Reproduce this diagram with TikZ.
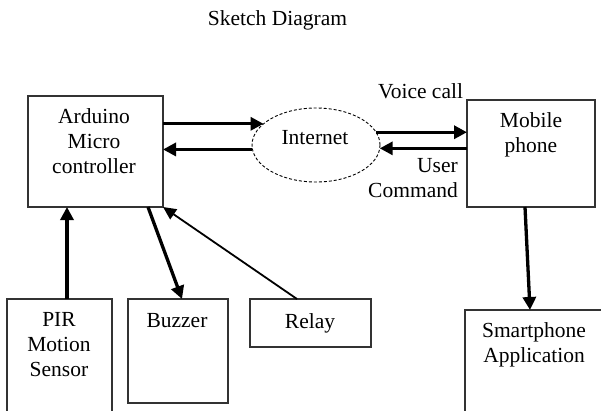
\documentclass[tikz,border=0pt]{standalone}
\usepackage{fontspec}
\setmainfont{Liberation Serif}
\usetikzlibrary{shapes.geometric,arrows.meta}

\begin{document}
\begin{tikzpicture}[x=1pt,y=-1pt,
	blk/.style={draw=black!80, line width=1.6pt, inner sep=0, outer sep=0},
	lbl/.style={inner sep=0, anchor=north, align=center, font=\fontsize{21.5}{25}\selectfont},
	link/.style={line width=3.3pt, -{Triangle[length=13pt,width=13pt]}},
	thinlink/.style={line width=1.8pt, -{Triangle[length=13pt,width=12pt]}}]
	\useasboundingbox (0,0) rectangle (601,410);
	\clip (0,0) rectangle (601,410);
	% blocks
	\node[blk, minimum width=135pt, minimum height=111pt] (ard) at (95.5,151.5) {};
	\node[blk, ellipse, draw=black, dash pattern=on 3pt off 2pt, line width=0.9pt, minimum width=128pt, minimum height=74pt] (net) at (316,145) {};
	\node[blk, minimum width=128pt, minimum height=107pt] (mob) at (531,153.5) {};
	\node[blk, minimum width=105pt, minimum height=121pt] (pir) at (59.5,359.5) {};
	\node[blk, minimum width=100pt, minimum height=104pt] (buz) at (178,351) {};
	\node[blk, minimum width=121pt, minimum height=48pt] (rel) at (310.5,323) {};
	\node[blk, minimum width=150pt, minimum height=110pt] (sph) at (540,365) {};
	% texts
	\node[lbl] (title) at (277.5,10.5) {Sketch Diagram};
	\node[lbl] (ardtxt) at (94,108.5) {Arduino\\Micro\\controller};
	\node[lbl] (nettxt) at (315,130.5) {Internet};
	\node[lbl] (voice) at (420.5,83.5) {Voice call};
	\node[lbl, anchor=north east, align=right] (usercmd) at (458,158.5) {User\\Command};
	\node[lbl] (mobtxt) at (531,112.5) {Mobile\\phone};
	\node[lbl] (pirtxt) at (59,312.5) {PIR\\Motion\\Sensor};
	\node[lbl] (buztxt) at (177,313.5) {Buzzer};
	\node[lbl] (reltxt) at (310,313.5) {Relay};
	\node[lbl] (sphtxt) at (534,322.5) {Smartphone\\Application};
	% connections
	\draw[link] (ard.east |- net.158) -- (net.158);
	\draw[link] (net.184) -- (net.184 -| ard.east);
	\draw[link] (net.12) -- (net.12 -| mob.west);
	\draw[link] (mob.west |- net.-3) -- (net.-3);
	\draw[link] ([xshift=7.5pt]pir.north) -- ([xshift=7.5pt]pir.north |- ard.south);
	\draw[link] ([xshift=52.5pt]ard.south) -- ([xshift=4pt]buz.north);
	\draw[thinlink] ([xshift=-13.5pt]rel.north) -- (ard.south east);
	\draw[link] ([xshift=-6pt]mob.south) -- ([xshift=-10pt]sph.north);
\end{tikzpicture}
\end{document}
